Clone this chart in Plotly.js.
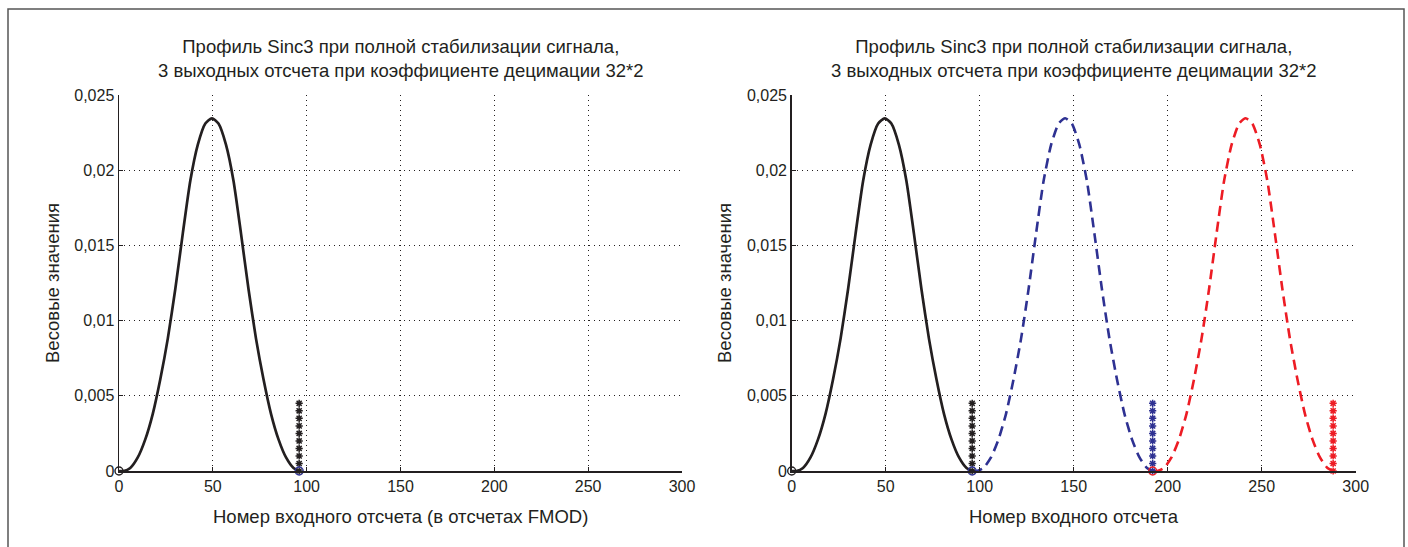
<!DOCTYPE html>
<html>
<head>
<meta charset="utf-8">
<script src="https://cdn.plot.ly/plotly-3.0.1.min.js"></script>
<style>html,body{margin:0;padding:0;background:#fff;}#chart{width:1408px;height:547px;}</style>
</head>
<body>
<div id="chart"></div>
<script>
// ---- data ----
const blackX = [0, 2.5, 6, 10, 14, 18, 22, 26, 30, 34, 38, 42, 46, 49.5, 53, 57, 61, 65, 69, 73, 77, 81, 85, 89, 93, 96.5];
const blueX  = [96, 98.5, 102, 106, 110, 114, 118, 122, 126, 130, 134, 138, 142, 145.5, 149, 153, 157, 161, 165, 169, 173, 177, 181, 185, 189, 192.5];
const redX   = [192, 194.5, 198, 202, 206, 210, 214, 218, 222, 226, 230, 234, 238, 241.5, 245, 249, 253, 257, 261, 265, 269, 273, 277, 281, 285, 288.5];
const profileY = [0, 0, 0.0002, 0.0009, 0.0021, 0.0038, 0.0061, 0.0088, 0.0121, 0.0158, 0.0193, 0.0217, 0.0231, 0.02345, 0.0231, 0.0217, 0.0193, 0.0158, 0.0121, 0.0088, 0.0061, 0.0038, 0.0021, 0.0009, 0.0002, 0];

const starY = [0, 0.0005, 0.001, 0.0015, 0.002, 0.0025, 0.003, 0.0035, 0.004, 0.0045];
const starXBlack = 96, starXBlue = 192, starXRed = 288;
const circleX = [0, 96, 192];
const circleY = [0, 0, 0];

const xTickVals = [0, 50, 100, 150, 200, 250, 300];
const xTickText = ['0', '50', '100', '150', '200', '250', '300'];
const yTickVals = [0, 0.005, 0.01, 0.015, 0.02, 0.025];
const yTickText = ['0', '0,005', '0,01', '0,015', '0,02', '0,025'];

const titleText = 'Профиль Sinc3 при полной стабилизации сигнала,<br>3 выходных отсчета при коэффициенте децимации 32*2';
const xTitleLeft = 'Номер входного отсчета (в отсчетах FMOD)';
const xTitleRight = 'Номер входного отсчета';
const yTitle = 'Весовые значения';

// ---- styles ----
const BLACK = '#231f20', BLUE = '#2e3192', RED = '#ed1c24';
const W = 1408, H = 547;
const px = v => v / W, py = v => 1 - v / H;

function fill(n, v) { return Array.from({length: n}, () => v); }

const traces = [];
function starTrace(xa, ya, xv, color) {
  return {x: fill(starY.length, xv), y: starY, xaxis: xa, yaxis: ya, mode: 'markers', type: 'scatter',
    marker: {symbol: 'asterisk-open', size: 6, color: color, line: {color: color, width: 1.5}}, cliponaxis: false};
}
function addSet(xa, ya, withCurves) {
  traces.push({x: blackX, y: profileY, xaxis: xa, yaxis: ya, mode: 'lines', type: 'scatter',
    line: {color: BLACK, width: 2.7, shape: 'spline', smoothing: 0.6}});
  if (withCurves) {
    traces.push({x: blueX, y: profileY, xaxis: xa, yaxis: ya, mode: 'lines', type: 'scatter',
      line: {color: BLUE, width: 2.6, dash: '10px,6px', shape: 'spline', smoothing: 0.6}});
    traces.push({x: redX, y: profileY, xaxis: xa, yaxis: ya, mode: 'lines', type: 'scatter',
      line: {color: RED, width: 2.6, dash: '10px,6px', shape: 'spline', smoothing: 0.6}});
  }
  traces.push(starTrace(xa, ya, starXBlack, BLACK));
  if (withCurves) {
    traces.push(starTrace(xa, ya, starXBlue, BLUE));
    traces.push(starTrace(xa, ya, starXRed, RED));
  }
  const nC = withCurves ? 3 : 2;
  traces.push({x: circleX.slice(0, nC), y: circleY.slice(0, nC), xaxis: xa, yaxis: ya, mode: 'markers', type: 'scatter',
    marker: {symbol: 'circle-open', size: 8, color: [BLACK, BLUE, RED].slice(0, nC), line: {width: 1.4}}, cliponaxis: false});
}
addSet('x', 'y', false);
addSet('x2', 'y2', true);

const FAMILY = 'Liberation Sans, Arial, sans-serif';
const axisFont = {family: FAMILY, size: 16, color: BLACK};
function xAxis(domain, anchor) {
  return {domain: domain, anchor: anchor, range: [0, 300], tickvals: xTickVals, ticktext: xTickText,
    showline: true, linecolor: BLACK, linewidth: 1.5, ticks: 'inside', ticklen: 4, tickcolor: BLACK, tickwidth: 1,
    showgrid: true, gridcolor: BLACK, gridwidth: 1, griddash: '1px,4px', zeroline: false, tickfont: axisFont,
    fixedrange: true};
}
function yAxis(domain, anchor) {
  return {domain: domain, anchor: anchor, range: [0, 0.025], tickvals: yTickVals, ticktext: yTickText,
    showline: true, linecolor: BLACK, linewidth: 1.5, ticks: 'inside', ticklen: 4, tickcolor: BLACK, tickwidth: 1,
    showgrid: true, gridcolor: BLACK, gridwidth: 1, griddash: '1px,4px', zeroline: false, tickfont: axisFont,
    fixedrange: true};
}
const yDom = [py(471), py(95)];
const xDomL = [px(119), px(682)], xDomR = [px(791.7), px(1355.7)];

const annFont = {family: FAMILY, size: 18.5, color: BLACK};
const layout = {
  width: W, height: H, margin: {l: 0, r: 0, t: 0, b: 0},
  paper_bgcolor: '#fff', plot_bgcolor: '#fff', showlegend: false,
  xaxis: xAxis(xDomL, 'y'), yaxis: yAxis(yDom, 'x'),
  xaxis2: xAxis(xDomR, 'y2'), yaxis2: yAxis(yDom, 'x2'),
  annotations: [
    {text: titleText, x: px(400.5), y: py(59), xref: 'paper', yref: 'paper', showarrow: false, font: annFont, align: 'center', xanchor: 'center', yanchor: 'middle'},
    {text: titleText, x: px(1073.7), y: py(59), xref: 'paper', yref: 'paper', showarrow: false, font: annFont, align: 'center', xanchor: 'center', yanchor: 'middle'},
    {text: xTitleLeft, x: px(400.5), y: py(516), xref: 'paper', yref: 'paper', showarrow: false, font: annFont, xanchor: 'center', yanchor: 'middle'},
    {text: xTitleRight, x: px(1073.7), y: py(516), xref: 'paper', yref: 'paper', showarrow: false, font: annFont, xanchor: 'center', yanchor: 'middle'},
    {text: yTitle, x: px(52), y: py(283), xref: 'paper', yref: 'paper', showarrow: false, font: annFont, textangle: -90, xanchor: 'center', yanchor: 'middle'},
    {text: yTitle, x: px(724), y: py(283), xref: 'paper', yref: 'paper', showarrow: false, font: annFont, textangle: -90, xanchor: 'center', yanchor: 'middle'}
  ],
  shapes: [
    {type: 'rect', xref: 'paper', yref: 'paper', x0: px(8), x1: px(1404), y0: -0.05, y1: py(9), line: {color: '#555', width: 1.5}}
  ]
};

Plotly.newPlot('chart', traces, layout, {staticPlot: true, displayModeBar: false});
</script>
</body>
</html>
